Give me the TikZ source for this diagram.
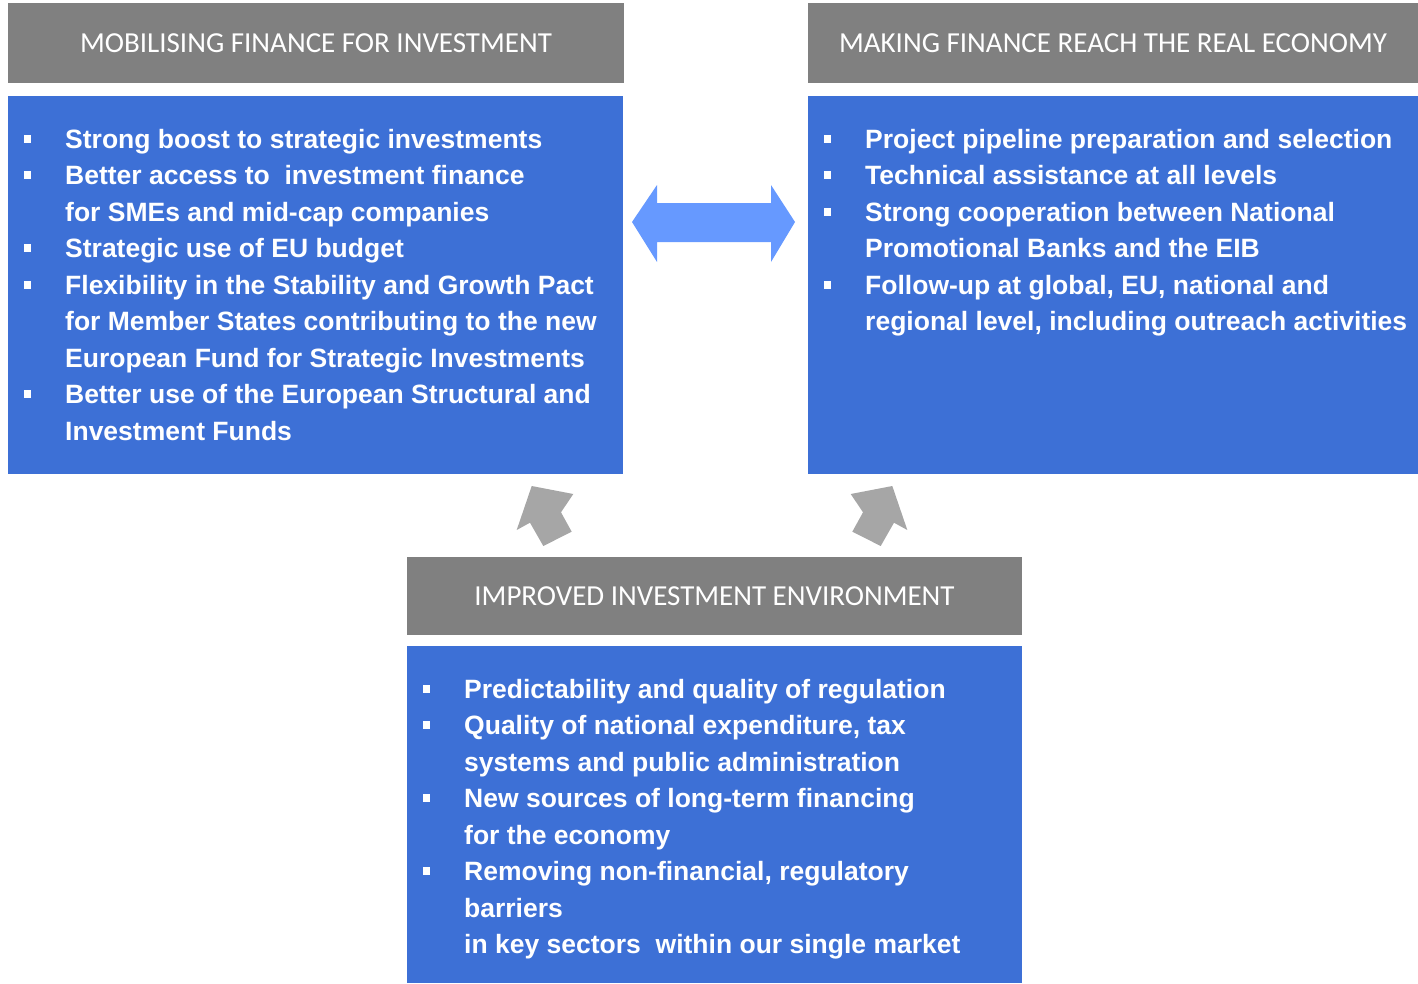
\documentclass[tikz,border=0pt]{standalone}
\usepackage{fontspec}
\newfontfamily\hdrfont{Carlito}
\newfontfamily\bodyfont{Liberation Sans}
\definecolor{hdrgray}{HTML}{808080}
\definecolor{boxblue}{HTML}{3D70D6}
\definecolor{arrblue}{HTML}{6699FF}
\definecolor{arrgray}{HTML}{A6A6A6}
\newcommand{\bl}{\strut\makebox[41pt][l]{\rule[5.5pt]{6.5pt}{8pt}}}
\newcommand{\ind}{\strut\hspace*{41pt}}
\begin{document}
\begin{tikzpicture}[x=1pt,y=-1pt,
  hdr/.style={fill=hdrgray,text=white,inner sep=0pt,font=\hdrfont\fontsize{29}{34}\selectfont},
  bluebox/.style={fill=boxblue,inner sep=0pt},
  bodytext/.style={text=white,inner sep=0pt,align=left,anchor=north west,font=\bodyfont\bfseries\fontsize{26.5}{36.5}\selectfont}]
\useasboundingbox (0,0) rectangle (1418,983);
% headers
\node[hdr,minimum width=616pt,minimum height=80pt] (h1) at (316,43) {MOBILISING FINANCE FOR INVESTMENT};
\node[hdr,minimum width=610pt,minimum height=80pt] (h2) at (1113,43) {MAKING FINANCE REACH THE REAL ECONOMY};
\node[hdr,minimum width=615pt,minimum height=78pt] (h3) at (714.5,596) {IMPROVED INVESTMENT ENVIRONMENT};
% blue boxes
\node[bluebox,minimum width=615pt,minimum height=378pt] (b1) at (315.5,285) {};
\node[bluebox,minimum width=610pt,minimum height=378pt] (b2) at (1113,285) {};
\node[bluebox,minimum width=615pt,minimum height=337pt] (b3) at (714.5,814.5) {};
% texts
\node[bodytext] (t1) at (24,122.45) {\bl Strong boost to strategic investments\\
\bl Better access to\ \ investment finance\\
\ind for SMEs and mid-cap companies\\
\bl Strategic use of EU budget\\
\bl Flexibility in the Stability and Growth Pact\\
\ind for Member States contributing to the new\\
\ind European Fund for Strategic Investments\\
\bl Better use of the European Structural and\\
\ind Investment Funds};
\node[bodytext] (t2) at (824,122.45) {\bl Project pipeline preparation and selection\\
\bl Technical assistance at all levels\\
\bl Strong cooperation between National\\
\ind Promotional Banks and the EIB\\
\bl Follow-up at global, EU, national and\\
\ind regional level, including outreach activities};
\node[bodytext] (t3) at (423,672.45) {\bl Predictability and quality of regulation\\
\bl Quality of national expenditure, tax\\
\ind systems and public administration\\
\bl New sources of long-term financing\\
\ind for the economy\\
\bl Removing non-financial, regulatory\\
\ind barriers\\
\ind in key sectors\ \ within our single market};
% double arrow
\fill[arrblue] (632,222) -- (657,185) -- (657,203) -- (771,203) -- (771,185) -- (795,222)
  -- (771,262) -- (771,242) -- (657,242) -- (657,262) -- cycle;
% gray up arrows
\fill[arrgray] (531.7,486) -- (573.3,494) -- (561,512.3) -- (571.7,531.7) -- (543.3,546)
  -- (530,522.7) -- (516.7,530) -- cycle;
\fill[arrgray] (892.3,486) -- (850.7,494) -- (863,512.3) -- (852.3,531.7) -- (880.7,546)
  -- (894,522.7) -- (907.3,530) -- cycle;
\end{tikzpicture}
\end{document}
